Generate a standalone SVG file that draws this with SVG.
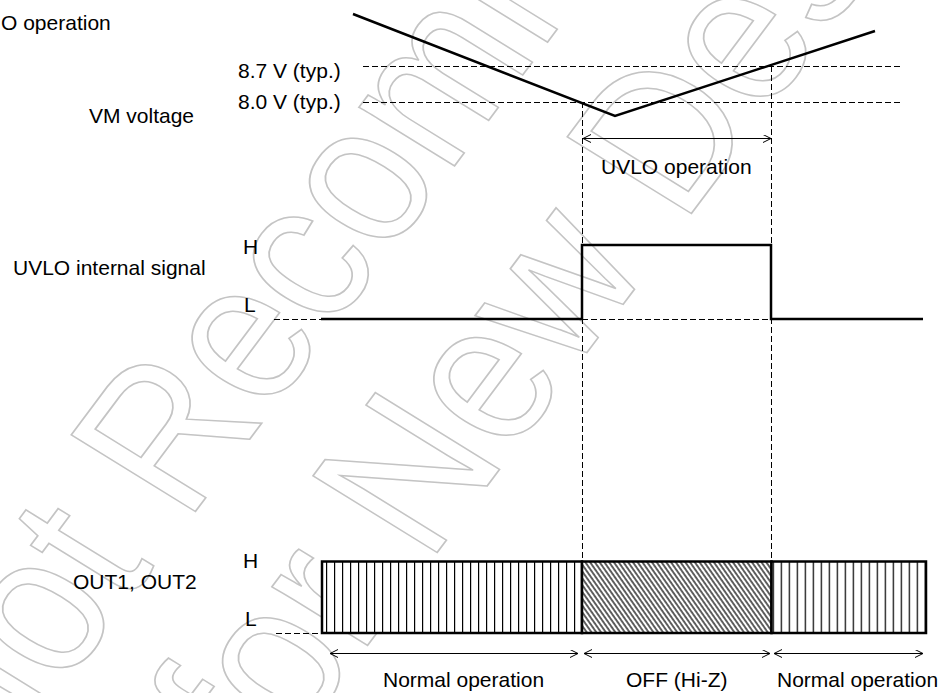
<svg xmlns="http://www.w3.org/2000/svg" width="943" height="693" viewBox="0 0 943 693">
<style>
text{font-family:"Liberation Sans",Arial,sans-serif;font-size:21px;fill:#000}
.wm text{font-size:186px;fill:none;stroke:#c4c4c4;stroke-width:1.5}
.dash{fill:none;stroke:#000;stroke-width:1;stroke-dasharray:6,3}
.thick{fill:none;stroke:#000;stroke-width:2.5;stroke-linejoin:miter}
.arr{fill:none;stroke:#000;stroke-width:1;marker-start:url(#ah);marker-end:url(#ah)}
.box{stroke:#000;stroke-width:2.5}
</style>
<defs>
<marker id="ah" markerUnits="userSpaceOnUse" markerWidth="12" markerHeight="10" refX="9" refY="4" orient="auto-start-reverse">
<path d="M1,0 L9,4 L1,8" fill="none" stroke="#000" stroke-width="1"/>
</marker>
<pattern id="vl1" patternUnits="userSpaceOnUse" x="326" y="0" width="8" height="10">
<rect width="8" height="10" fill="#fff"/>
<line x1="0.6" y1="0" x2="0.6" y2="10" stroke="#000" stroke-width="1.2"/>
</pattern>
<pattern id="vl2" patternUnits="userSpaceOnUse" x="780.7" y="0" width="8" height="10">
<rect width="8" height="10" fill="#fff"/>
<line x1="0.6" y1="0" x2="0.6" y2="10" stroke="#000" stroke-width="1.2"/>
</pattern>
<pattern id="dg" patternUnits="userSpaceOnUse" width="3.9" height="10" patternTransform="rotate(-35)">
<rect width="3.9" height="10" fill="#fff"/>
<line x1="1" y1="0" x2="1" y2="10" stroke="#1e1e1e" stroke-width="1.4"/>
</pattern>
</defs>
<rect width="943" height="693" fill="#fff"/>
<g id="watermark" class="wm" transform="matrix(0.6 -0.8 0.97 0.6 -18.5 796.6)">
<text x="0" y="0">Not Recommended</text>
<text x="165" y="192">for New Design</text>
</g>
<g id="labels">
<text x="1" y="30">O operation</text>
<text x="238" y="78">8.7 V (typ.)</text>
<text x="238" y="109">8.0 V (typ.)</text>
<text x="89" y="122.5">VM voltage</text>
<text x="601" y="174">UVLO operation</text>
<text x="13" y="274.5">UVLO internal signal</text>
<text x="243" y="254">H</text>
<text x="244" y="312">L</text>
<text x="73" y="589">OUT1, OUT2</text>
<text x="243" y="568">H</text>
<text x="245" y="626">L</text>
<text x="383" y="687">Normal operation</text>
<text x="626" y="687">OFF (Hi-Z)</text>
<text x="777" y="687">Normal operation</text>
</g>
<g id="connectors">
<line class="dash" x1="363" y1="66.5" x2="902" y2="66.5"/>
<line class="dash" x1="363" y1="102.5" x2="902" y2="102.5"/>
<line class="dash" x1="582.5" y1="102" x2="582.5" y2="561"/>
<line class="dash" x1="771.5" y1="66" x2="771.5" y2="561"/>
<line class="dash" x1="274" y1="319.5" x2="321" y2="319.5"/>
<line class="dash" x1="582" y1="319.5" x2="771" y2="319.5"/>
<line class="dash" x1="276" y1="633.5" x2="322" y2="633.5"/>
<line class="arr" x1="583" y1="138.5" x2="771" y2="138.5"/>
<line class="arr" x1="330" y1="653.5" x2="578" y2="653.5"/>
<line class="arr" x1="584" y1="653.5" x2="770" y2="653.5"/>
<line class="arr" x1="774" y1="653.5" x2="923" y2="653.5"/>
</g>
<g id="vm-voltage">
<polyline class="thick" points="353,14 615,116 875,31"/>
</g>
<g id="uvlo-signal">
<polyline class="thick" points="321,319 582,319 582,245 771,245 771,319 923,319"/>
</g>
<g id="out-signal">
<rect class="box" x="322" y="561.5" width="260" height="71.5" fill="url(#vl1)"/>
<rect class="box" x="582" y="561.5" width="189.5" height="71.5" fill="url(#dg)"/>
<rect class="box" x="771.5" y="561.5" width="154.5" height="71.5" fill="url(#vl2)"/>
</g>
</svg>
